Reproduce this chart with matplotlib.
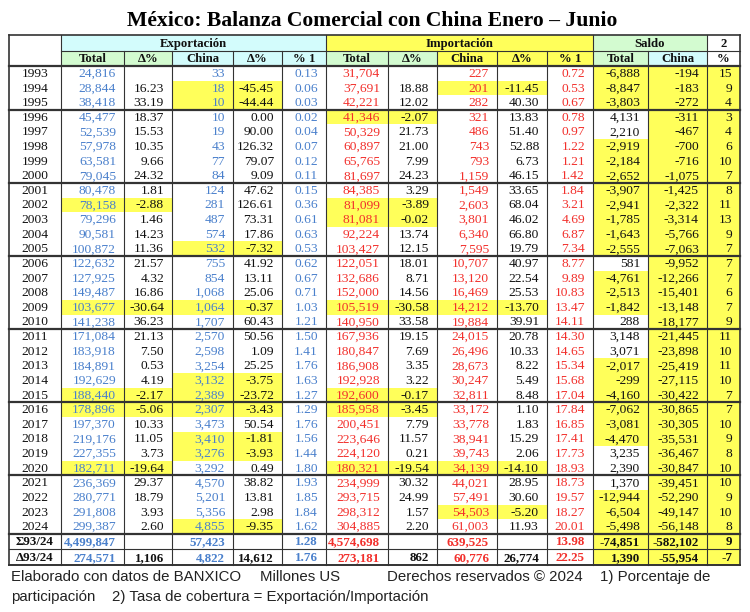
# tabla: balanza comercial Mexico - China, enero-junio
import matplotlib.pyplot as plt
from matplotlib.patches import Rectangle

years = list(range(1993, 2025))

exp_total = [24816, 28844, 38418, 45477, 52539, 57978, 63581, 79045, 80478, 78158,
             79296, 90581, 100872, 122632, 127925, 149487, 103677, 141238, 171084, 183918,
             184891, 192629, 188440, 178896, 197370, 219176, 227355, 182711, 236369, 280771,
             291808, 299387]
exp_delta = [None, 16.23, 33.19, 18.37, 15.53, 10.35, 9.66, 24.32, 1.81, -2.88,
             1.46, 14.23, 11.36, 21.57, 4.32, 16.86, -30.64, 36.23, 21.13, 7.50,
             0.53, 4.19, -2.17, -5.06, 10.33, 11.05, 3.73, -19.64, 29.37, 18.79,
             3.93, 2.60]
exp_china = [33, 18, 10, 10, 19, 43, 77, 84, 124, 281, 487, 574, 532, 755, 854, 1068,
             1064, 1707, 2570, 2598, 3254, 3132, 2389, 2307, 3473, 3410, 3276, 3292, 4570,
             5201, 5356, 4855]
exp_china_delta = [None, -45.45, -44.44, 0.00, 90.00, 126.32, 79.07, 9.09, 47.62, 126.61,
                   73.31, 17.86, -7.32, 41.92, 13.11, 25.06, -0.37, 60.43, 50.56, 1.09,
                   25.25, -3.75, -23.72, -3.43, 50.54, -1.81, -3.93, 0.49, 38.82, 13.81,
                   2.98, -9.35]
exp_share = [0.13, 0.06, 0.03, 0.02, 0.04, 0.07, 0.12, 0.11, 0.15, 0.36, 0.61, 0.63, 0.53,
             0.62, 0.67, 0.71, 1.03, 1.21, 1.50, 1.41, 1.76, 1.63, 1.27, 1.29, 1.76, 1.56,
             1.44, 1.80, 1.93, 1.85, 1.84, 1.62]

imp_total = [31704, 37691, 42221, 41346, 50329, 60897, 65765, 81697, 84385, 81099,
             81081, 92224, 103427, 122051, 132686, 152000, 105519, 140950, 167936, 180847,
             186908, 192928, 192600, 185958, 200451, 223646, 224120, 180321, 234999, 293715,
             298312, 304885]
imp_delta = [None, 18.88, 12.02, -2.07, 21.73, 21.00, 7.99, 24.23, 3.29, -3.89,
             -0.02, 13.74, 12.15, 18.01, 8.71, 14.56, -30.58, 33.58, 19.15, 7.69,
             3.35, 3.22, -0.17, -3.45, 7.79, 11.57, 0.21, -19.54, 30.32, 24.99,
             1.57, 2.20]
imp_china = [227, 201, 282, 321, 486, 743, 793, 1159, 1549, 2603, 3801, 6340, 7595, 10707,
             13120, 16469, 14212, 19884, 24015, 26496, 28673, 30247, 32811, 33172, 33778,
             38941, 39743, 34139, 44021, 57491, 54503, 61003]
imp_china_delta = [None, -11.45, 40.30, 13.83, 51.40, 52.88, 6.73, 46.15, 33.65, 68.04,
                   46.02, 66.80, 19.79, 40.97, 22.54, 25.53, -13.70, 39.91, 20.78, 10.33,
                   8.22, 5.49, 8.48, 1.10, 1.83, 15.29, 2.06, -14.10, 28.95, 30.60,
                   -5.20, 11.93]
imp_share = [0.72, 0.53, 0.67, 0.78, 0.97, 1.22, 1.21, 1.42, 1.84, 3.21, 4.69, 6.87, 7.34,
             8.77, 9.89, 10.83, 13.47, 14.11, 14.30, 14.65, 15.34, 15.68, 17.04, 17.84,
             16.85, 17.41, 17.73, 18.93, 18.73, 19.57, 18.27, 20.01]

saldo_total = [-6888, -8847, -3803, 4131, 2210, -2919, -2184, -2652, -3907, -2941, -1785,
               -1643, -2555, 581, -4761, -2513, -1842, 288, 3148, 3071, -2017, -299, -4160,
               -7062, -3081, -4470, 3235, 2390, 1370, -12944, -6504, -5498]
saldo_china = [-194, -183, -272, -311, -467, -700, -716, -1075, -1425, -2322, -3314, -5766,
               -7063, -9952, -12266, -15401, -13148, -18177, -21445, -23898, -25419, -27115,
               -30422, -30865, -30305, -35531, -36467, -30847, -39451, -52290, -49147, -56148]
cobertura = [15, 9, 4, 3, 4, 6, 10, 7, 8, 11, 13, 9, 7, 7, 7, 6, 7, 9, 11, 10, 11, 10, 7, 7,
             10, 9, 8, 10, 10, 9, 10, 8]

# filas de resumen
sum_row = ['4,499,847', '', '57,423', '', '1.28', '4,574,698', '', '639,525', '', '13.98',
           '-74,851', '-582,102', '9']
delta_row = ['274,571', '1,106', '4,822', '14,612', '1.76', '273,181', '862', '60,776',
             '26,774', '22.25', '1,390', '-55,954', '-7']

BLUE = '#4a80cc'
RED = '#f2302c'
BLACK = '#111111'
YELLOW = '#ffff5a'
GREEN = '#d3fbd0'
CYAN = '#d3fcfc'
LINE = '#333333'

SERIF = 'Liberation Serif'

col_x = [9, 61, 124, 172, 233, 282, 326, 388, 437, 497, 547, 593, 648, 707, 740]
y_top, y_mid, y_head = 35, 51, 66
row_h = 14.62
row_y = [y_head + i * row_h for i in range(len(years) + 1)]
y_sum = row_y[-1]
y_delta = y_sum + 15.6
y_bot = 565

fig = plt.figure(figsize=(7.5, 6.12), dpi=100)
ax = fig.add_axes([0, 0, 1, 1])
ax.set_xlim(0, 750)
ax.set_ylim(612, 0)
ax.axis('off')


def fill(c0, c1, y0, y1, color):
    ax.add_patch(Rectangle((col_x[c0], y0), col_x[c1] - col_x[c0], y1 - y0,
                           facecolor=color, edgecolor='none', zorder=1))


def put(c, y0, y1, txt, color=BLACK, bold=False, ha='right', size=9.7):
    if ha == 'right':
        x = col_x[c + 1] - 8
    else:
        x = (col_x[c] + col_x[c + 1]) / 2
    ax.text(x, (y0 + y1) / 2 + 0.6, txt, ha=ha, va='center', color=color,
            fontsize=size, family=SERIF, fontweight='bold' if bold else 'normal', zorder=3)


def fmt_int(v):
    return f'{v:,}'


def fmt_pct(v):
    return '' if v is None else f'{v:.2f}'


# titulo
ax.text(372, 21, 'México: Balanza Comercial con China Enero – Junio', ha='center',
        va='center', fontsize=15.6, family=SERIF, fontweight='bold', color='black')

# encabezados
fill(1, 6, y_top, y_mid, CYAN)
fill(6, 11, y_top, y_mid, YELLOW)
fill(11, 13, y_top, y_mid, GREEN)
head_bg = [GREEN, GREEN, CYAN, CYAN, CYAN, GREEN, GREEN, YELLOW, YELLOW, YELLOW, GREEN, CYAN, 'white']
head_txt = ['Total', 'Δ%', 'China', 'Δ%', '% 1', 'Total', 'Δ%', 'China', 'Δ%', '% 1',
            'Total', 'China', '%']
for i, (bg, t) in enumerate(zip(head_bg, head_txt)):
    fill(i + 1, i + 2, y_mid, y_head, bg)
    put(i + 1, y_mid, y_head, t, bold=True, ha='center', size=9.2)
for c0, c1, t in [(1, 6, 'Exportación'), (6, 11, 'Importación'), (11, 13, 'Saldo'), (13, 14, '2')]:
    ax.text((col_x[c0] + col_x[c1]) / 2, (y_top + y_mid) / 2 + 0.6, t, ha='center',
            va='center', fontsize=9.2, family=SERIF, fontweight='bold', color=BLACK, zorder=3)

# filas de datos
for i, yr in enumerate(years):
    y0, y1 = row_y[i], row_y[i + 1]
    if exp_delta[i] is not None and exp_delta[i] < 0:
        fill(1, 3, y0, y1, YELLOW)
    if exp_china_delta[i] is not None and exp_china_delta[i] < 0:
        fill(3, 5, y0, y1, YELLOW)
    if imp_delta[i] is not None and imp_delta[i] < 0:
        fill(6, 8, y0, y1, YELLOW)
    if imp_china_delta[i] is not None and imp_china_delta[i] < 0:
        fill(8, 10, y0, y1, YELLOW)
    if saldo_total[i] < 0:
        fill(11, 12, y0, y1, YELLOW)
    if saldo_china[i] < 0:
        fill(12, 13, y0, y1, YELLOW)
    fill(13, 14, y0, y1, YELLOW)

    put(0, y0, y1, str(yr), ha='center')
    put(1, y0, y1, fmt_int(exp_total[i]), BLUE)
    put(2, y0, y1, fmt_pct(exp_delta[i]))
    put(3, y0, y1, fmt_int(exp_china[i]), BLUE)
    put(4, y0, y1, fmt_pct(exp_china_delta[i]))
    put(5, y0, y1, fmt_pct(exp_share[i]), BLUE)
    put(6, y0, y1, fmt_int(imp_total[i]), RED)
    put(7, y0, y1, fmt_pct(imp_delta[i]))
    put(8, y0, y1, fmt_int(imp_china[i]), RED)
    put(9, y0, y1, fmt_pct(imp_china_delta[i]))
    put(10, y0, y1, fmt_pct(imp_share[i]), RED)
    put(11, y0, y1, fmt_int(saldo_total[i]))
    put(12, y0, y1, fmt_int(saldo_china[i]))
    put(13, y0, y1, str(cobertura[i]))

# filas de resumen
row_colors = [BLUE, BLACK, BLUE, BLACK, BLUE, RED, BLACK, RED, BLACK, RED, BLACK, BLACK, BLACK]
for label, vals, y0, y1 in [('Σ93/24', sum_row, y_sum, y_delta), ('Δ93/24', delta_row, y_delta, y_bot)]:
    fill(11, 14, y0, y1, YELLOW)
    put(0, y0, y1, label, bold=True, ha='center', size=9.4)
    for c, (v, col) in enumerate(zip(vals, row_colors)):
        put(c + 1, y0, y1, v, col, bold=True, size=9.4)

# lineas
thin, thick = 0.8, 1.6
ax.plot([col_x[0], col_x[-1]], [y_top, y_top], color=LINE, lw=1.2, zorder=4)
ax.plot([col_x[1], col_x[-1]], [y_mid, y_mid], color=LINE, lw=thin, zorder=4)
for y in [y_head] + [row_y[k] for k in (3, 8, 13, 18, 23, 28, 32)]:
    ax.plot([col_x[0], col_x[-1]], [y, y], color=LINE, lw=thick, zorder=4)
ax.plot([col_x[0], col_x[-1]], [y_delta, y_delta], color=LINE, lw=thin, zorder=4)
ax.plot([col_x[0], col_x[-1]], [y_bot, y_bot], color=LINE, lw=1.4, zorder=4)
for k, x in enumerate(col_x):
    top = y_top if k in (0, 1, 6, 11, 13, 14) else y_mid
    lw = 1.2 if k in (0, 14) else thin
    ax.plot([x, x], [top, y_bot], color=LINE, lw=lw, zorder=4)

# notas
note = dict(fontsize=10.8, family='Liberation Sans', color='#222222', va='center')
ax.text(11, 577, 'Elaborado con datos de BANXICO', **note)
ax.text(260, 577, 'Millones US', **note)
ax.text(387, 577, 'Derechos reservados © 2024', **note)
ax.text(600, 577, '1) Porcentaje de', **note)
ax.text(11, 597, 'participación', **note)
ax.text(112, 597, '2) Tasa de cobertura = Exportación/Importación', **note)

plt.savefig('out.png', dpi=100)
plt.close()
